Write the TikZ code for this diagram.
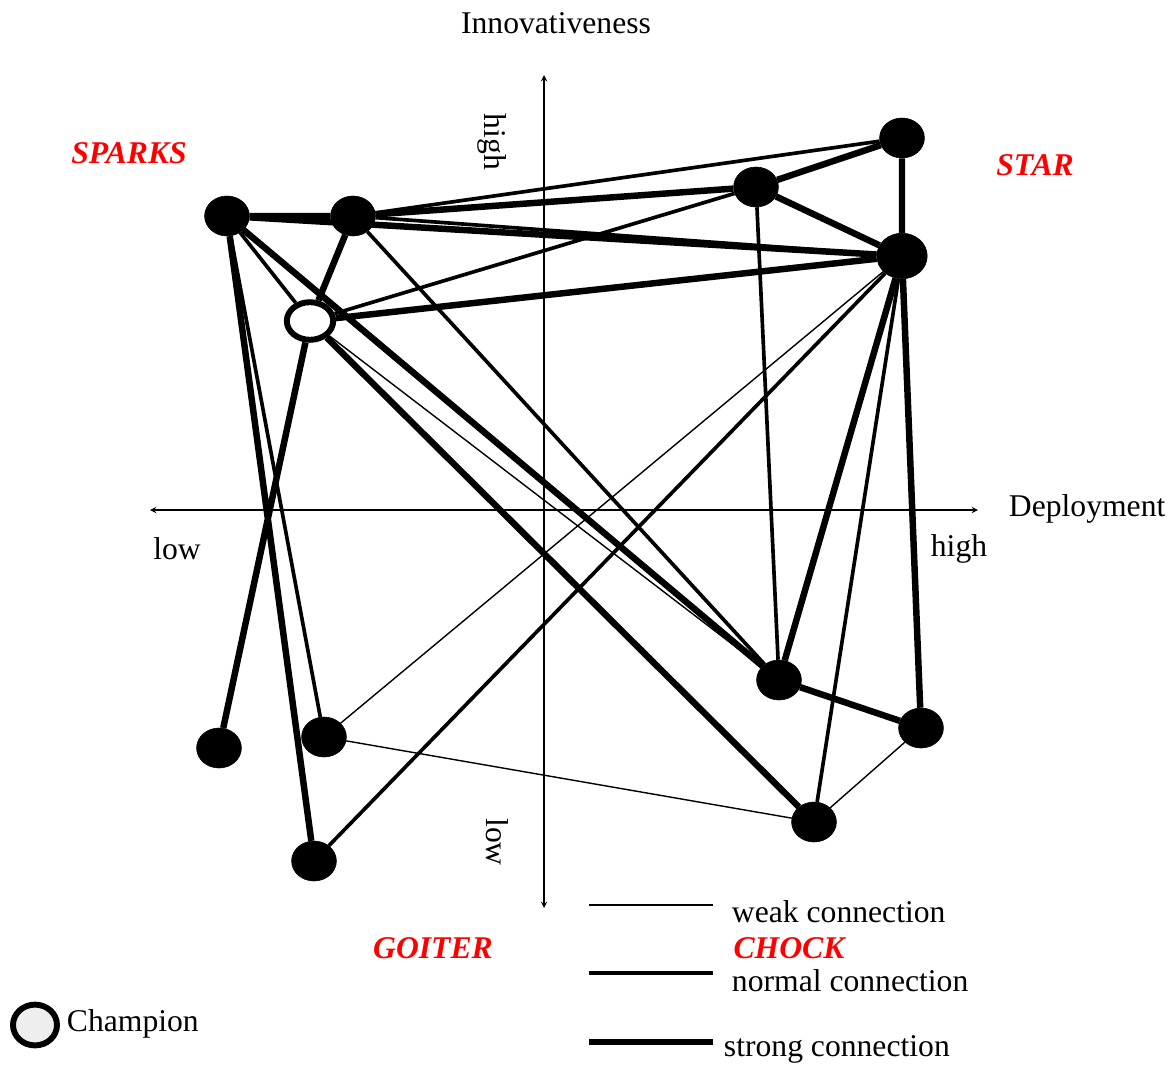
\documentclass[tikz,border=0pt]{standalone}
\usepackage{fontspec}
\setmainfont{Liberation Serif}
\usepackage{xcolor}
\usepackage{tikz}
\usetikzlibrary{shapes.geometric, arrows}
\definecolor{quadred}{RGB}{255,0,0}
\definecolor{champgray}{RGB}{238,238,238}
\tikzstyle{firm} = [draw, ellipse, fill=black, inner sep=0pt, minimum width=1.12cm, minimum height=1cm]
\tikzstyle{bigfirm} = [firm, minimum width=1.26cm, minimum height=1.14cm]
\tikzstyle{champion} = [draw, ellipse, fill=white, line width=4.2pt, inner sep=0pt, minimum width=1.16cm, minimum height=0.94cm]
\tikzstyle{weaklink} = [line width=1pt]
\tikzstyle{normallink} = [line width=2.6pt]
\tikzstyle{stronglink} = [line width=4.6pt]
\tikzstyle{axis} = [line width=1pt,<->,>=stealth]
\tikzstyle{quadrant} = [text=quadred, font=\fontsize{22.5}{27}\selectfont\bfseries\itshape]

\begin{document}
\begin{tikzpicture}[x=0.025cm, y=-0.025cm, font=\fontsize{22.5}{27}\selectfont]
    \useasboundingbox (0,0) rectangle (1175,1065);
    % axes
    \draw [axis] (150,510) -- (978,510);
    \draw [axis] (544,908) -- (544,75);
    \node (innov) at (556,23) {Innovativeness};
    \node (deploy) [anchor=west] at (1004,509) {Deployment};
    \node (xlow) at (177,549) {low};
    \node (xhigh) at (959,549) {high};
    \node (yhigh) [rotate=-90] at (492,142) {high};
    \node (ylow) [rotate=-90] at (497,842) {low};
    % quadrants
    \node (sparks) [quadrant] at (129,153) {SPARKS};
    \node (star) [quadrant] at (1035,165) {STAR};
    \node (goiter) [quadrant] at (433,948) {GOITER};
    \node (chock) [quadrant] at (789,948) {CHOCK};
    % firms
    \node (fa) [firm] at (227,216) {};
    \node (fb) [firm] at (353,216) {};
    \node (fc) [champion] at (310,321) {};
    \node (fd) [firm] at (756,187) {};
    \node (fe) [firm] at (902,138) {};
    \node (ff) [bigfirm] at (902,256) {};
    \node (fg) [firm] at (779,680) {};
    \node (fh) [firm] at (921,728) {};
    \node (fi) [firm] at (814,822) {};
    \node (fj) [firm] at (219,748) {};
    \node (fk) [firm] at (324,737) {};
    \node (fl) [firm] at (314,861) {};
    % connections
    \draw [stronglink] (fa) -- (fb) (fa) -- (ff) (fa) -- (fg) (fa) -- (fl)
        (fb) -- (fc) (fb) -- (fd) (fc) -- (ff) (fc) -- (fi) (fc) -- (fj)
        (fd) -- (fe) (fd) -- (ff) (fe) -- (ff) (ff) -- (fg) (ff) -- (fh) (fg) -- (fh);
    \draw [normallink] (fa) -- (fc) (fa) -- (fk) (fb) -- (fe) (fb) -- (ff) (fb) -- (fg)
        (fc) -- (fd) (fd) -- (fg) (ff) -- (fi) (ff) -- (fl);
    \draw [weaklink] (fc) -- (fg) (ff) -- (fk) (fk) -- (fi) (fh) -- (fi);
    % legend
    \draw [weaklink] (589,905) -- (713,905);
    \draw [normallink] (589,973) -- (713,973);
    \draw [stronglink] (589,1042) -- (713,1042);
    \node (weaktxt) [anchor=west] at (727,912) {weak connection};
    \node (normaltxt) [anchor=west] at (727,981) {normal connection};
    \node (strongtxt) [anchor=west] at (719,1049) {strong connection};
    \node (champ) [champion, fill=champgray, minimum width=1.1cm, minimum height=1.02cm] at (35,1025) {};
    \node (champtxt) [anchor=west] at (62,1024) {Champion};
\end{tikzpicture}
\end{document}
